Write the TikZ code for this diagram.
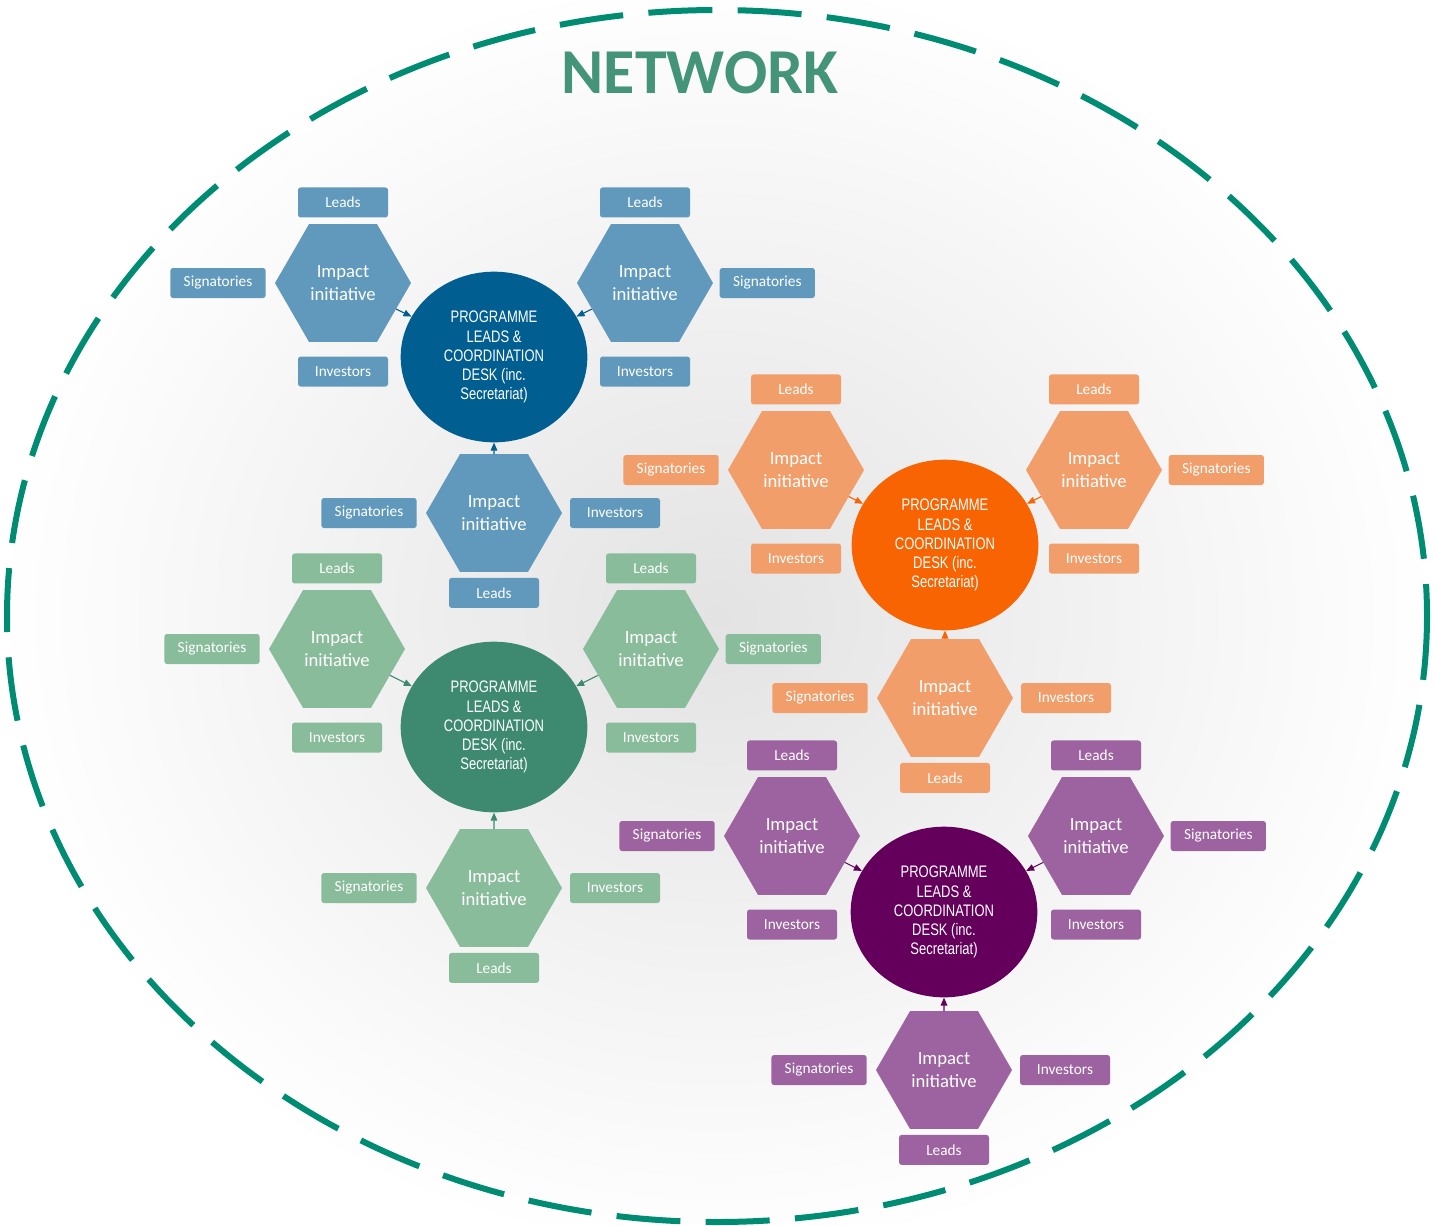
\documentclass[tikz,border=0pt]{standalone}
\usepackage{fontspec}
\setmainfont{Carlito}
\newfontfamily\deskfont[FakeStretch=0.78]{Liberation Sans}
\usepackage{tikz}
\usetikzlibrary{positioning,shapes.geometric,arrows.meta}

\definecolor{deskBlue}{RGB}{0,94,145}
\definecolor{tagBlue}{RGB}{96,153,188}
\definecolor{deskOrange}{RGB}{248,100,2}
\definecolor{tagOrange}{RGB}{241,158,106}
\definecolor{deskGreen}{RGB}{62,138,112}
\definecolor{tagGreen}{RGB}{137,188,155}
\definecolor{deskPurple}{RGB}{100,0,92}
\definecolor{tagPurple}{RGB}{157,98,160}
\definecolor{netTeal}{RGB}{0,140,115}
\definecolor{titleGreen}{RGB}{67,148,121}

\begin{document}
\begin{tikzpicture}[x=0.75pt,y=-0.75pt,
    desk/.style={ellipse, minimum width=140pt, minimum height=128pt, inner sep=0pt,
        text=white, align=center, font=\deskfont\fontsize{12.5}{14.3}\selectfont},
    hexa/.style={regular polygon, regular polygon sides=6, minimum size=102pt,
        inner sep=0pt, outer sep=0pt, text=white, align=center,
        font=\fontsize{14}{17}\selectfont},
    tag/.style={rounded corners=2pt, minimum width=67.5pt, minimum height=22.5pt,
        inner xsep=10pt, inner ysep=2pt, outer sep=0pt, text=white,
        font=\fontsize{11.5}{13}\selectfont},
    >={Triangle[length=6pt,width=5pt]}]

    % page and background
    \useasboundingbox (0,0) rectangle (1434,1225);
    \fill[white] (0,0) rectangle (1434,1225);
    \shade[inner color=black!11, outer color=white] (717,616) ellipse [x radius=720, y radius=640];

    % the network
    \draw[netTeal, line width=4.5pt, dash pattern=on 48pt off 19pt]
        (717,616) ellipse [x radius=710, y radius=606];
    \node (title) at (700,73) {\fontsize{48}{50}\selectfont\bfseries\color{titleGreen}NETWORK};

    % one programme per cluster
    \foreach \i/\cx/\cy/\sx/\sy/\sb/\dk/\lt in {1/494/357/151/74/156/deskBlue/tagBlue,
                                                2/945/545/149/75/153/deskOrange/tagOrange,
                                                3/494/727/157/78/161/deskGreen/tagGreen,
                                                4/944/912/152/76/158/deskPurple/tagPurple}{
        \node[desk, fill=\dk] (desk\i) at (\cx,\cy)
            {PROGRAMME\\LEADS \&\\COORDINATION\\DESK (inc.\\Secretariat)};

        \node[hexa, fill=\lt] (hexl\i) at (\cx-\sx,\cy-\sy) {Impact\\initiative};
        \node[hexa, fill=\lt] (hexr\i) at (\cx+\sx,\cy-\sy) {Impact\\initiative};
        \node[hexa, fill=\lt] (hexb\i) at (\cx,\cy+\sb) {Impact\\initiative};

        \node[tag, fill=\lt, above=5pt of hexl\i] (leadsl\i) {Leads};
        \node[tag, fill=\lt, left=7pt of hexl\i] (sigl\i) {Signatories};
        \node[tag, fill=\lt, below=11pt of hexl\i] (invl\i) {Investors};

        \node[tag, fill=\lt, above=5pt of hexr\i] (leadsr\i) {Leads};
        \node[tag, fill=\lt, right=5pt of hexr\i] (sigr\i) {Signatories};
        \node[tag, fill=\lt, below=11pt of hexr\i] (invr\i) {Investors};

        \node[tag, fill=\lt, left=7pt of hexb\i] (sigb\i) {Signatories};
        \node[tag, fill=\lt, right=6pt of hexb\i] (invb\i) {Investors};
        \node[tag, fill=\lt, below=4.5pt of hexb\i] (leadsb\i) {Leads};

        \draw[->, \dk, line width=0.8pt] (hexl\i) -- (desk\i);
        \draw[->, \dk, line width=0.8pt] (hexr\i) -- (desk\i);
        \draw[->, \dk, line width=0.8pt] (hexb\i) -- (desk\i);
    }
\end{tikzpicture}
\end{document}
